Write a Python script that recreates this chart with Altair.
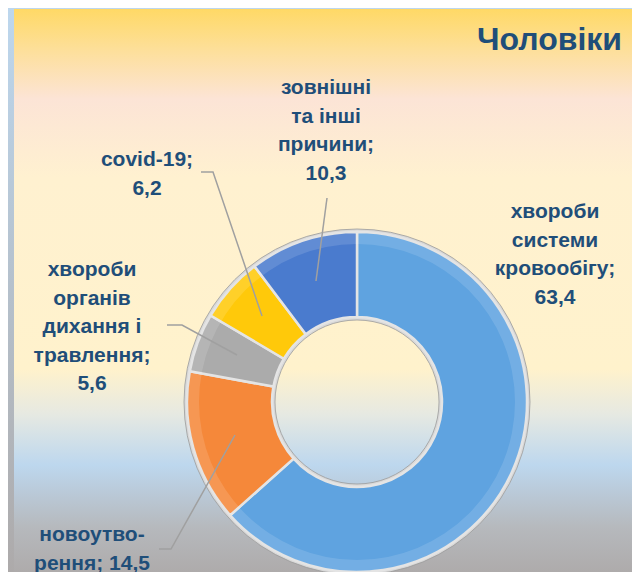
import altair as alt
import pandas as pd

# ---- data ----
categories = [
    "хвороби системи кровообігу",
    "новоутворення",
    "хвороби органів дихання і травлення",
    "covid-19",
    "зовнішні та інші причини",
]
values = [63.4, 14.5, 5.6, 6.2, 10.3]
labels = [
    "хвороби\nсистеми\nкровообігу;\n63,4",
    "новоутво-\nрення; 14,5",
    "хвороби\nорганів\nдихання і\nтравлення;\n5,6",
    "covid-19;\n6,2",
    "зовнішні\nта інші\nпричини;\n10,3",
]
title_text = "Чоловіки"

# ---- layout / style ----
W, H = 624, 564
CX, CY = 349, 394
R_OUT, R_IN = 170, 85
colors = ["#5FA3E0", "#F5883A", "#ABABAB", "#FFC90A", "#4A7BCE"]
label_pos = [(547, 204), (84, 527), (84, 262), (139, 152), (318, 80)]
leaders = [
    [(193, 164), (205, 164), (254, 308)],
    [(319, 190), (308, 273)],
    [(159, 317), (174, 317), (229, 347)],
    [(151, 541), (163, 541), (227, 427)],
]
FONT = "Liberation Sans, Arial, sans-serif"
TXT = "#1F4E79"

arc_df = pd.DataFrame({"category": categories, "value": values, "order": list(range(len(values)))})
lab_df = pd.DataFrame({
    "label": labels,
    "lx": [p[0] for p in label_pos],
    "ly": [p[1] for p in label_pos],
})
rows = []
for i, pts in enumerate(leaders):
    for j, (px, py) in enumerate(pts):
        rows.append({"id": i, "o": j, "px": px, "py": py})
lead_df = pd.DataFrame(rows)
one = pd.DataFrame({"a": [0]})

frame = alt.Chart(one).mark_rect(
    color=alt.LinearGradient(
        gradient="linear", x1=0, y1=0, x2=0, y2=1,
        stops=[alt.GradientStop(offset=0, color="#BDD7EE"),
               alt.GradientStop(offset=1, color="#ADAAAA")],
    )
).encode(x=alt.value(0), x2=alt.value(W), y=alt.value(0), y2=alt.value(H))

panel = alt.Chart(one).mark_rect(
    color=alt.LinearGradient(
        gradient="linear", x1=0, y1=0, x2=0, y2=1,
        stops=[
            alt.GradientStop(offset=0.0, color="#FFD966"),
            alt.GradientStop(offset=0.07, color="#FDDF98"),
            alt.GradientStop(offset=0.16, color="#FCE4D6"),
            alt.GradientStop(offset=0.30, color="#FFF1D0"),
            alt.GradientStop(offset=0.64, color="#FFF2CC"),
            alt.GradientStop(offset=0.72, color="#E6E9E2"),
            alt.GradientStop(offset=0.81, color="#BDD7EE"),
            alt.GradientStop(offset=0.92, color="#B6B9BD"),
            alt.GradientStop(offset=1.0, color="#AEABAB"),
        ],
    )
).encode(x=alt.value(6), x2=alt.value(W), y=alt.value(1), y2=alt.value(H))

rim = alt.Chart(one).mark_arc(
    outerRadius=R_OUT + 3, innerRadius=R_IN - 3, color="#D9D9D9",
    stroke="#9A9A9A", strokeWidth=0.8,
).encode(theta=alt.value(6.2832), x=alt.value(CX), y=alt.value(CY))

arcs = alt.Chart(arc_df).mark_arc(
    outerRadius=R_OUT, innerRadius=R_IN, stroke="#E4E4E4", strokeWidth=2.5,
).encode(
    theta=alt.Theta("value:Q", stack=True),
    color=alt.Color("category:N", scale=alt.Scale(domain=categories, range=colors), legend=None),
    order=alt.Order("order:Q"),
    x=alt.value(CX),
    y=alt.value(CY),
)

# subtle bevel: light outer band
bevel_out = alt.Chart(one).mark_arc(
    outerRadius=R_OUT - 1, innerRadius=R_OUT - 12, color="white", opacity=0.13,
).encode(theta=alt.value(6.2832), x=alt.value(CX), y=alt.value(CY))

lines = alt.Chart(lead_df).mark_line(color="#A0A0A0", strokeWidth=1.5).encode(
    x=alt.X("px:Q", scale=None, axis=None),
    y=alt.Y("py:Q", scale=None, axis=None),
    detail="id:N",
    order="o:Q",
)

texts = alt.Chart(lab_df).mark_text(
    font=FONT, fontSize=21, fontWeight="bold", color=TXT,
    align="center", baseline="middle", lineBreak="\n", lineHeight=28.5,
).encode(
    x=alt.X("lx:Q", scale=None, axis=None),
    y=alt.Y("ly:Q", scale=None, axis=None),
    text="label:N",
)

title = alt.Chart(one).mark_text(
    text=title_text, font=FONT, fontSize=32, fontWeight="bold", color=TXT,
    align="right", baseline="alphabetic",
).encode(x=alt.value(614), y=alt.value(42))

chart = alt.layer(frame, panel, rim, arcs, bevel_out, lines, texts, title).properties(
    width=W, height=H, padding=0, autosize=alt.AutoSizeParams(type="none"),
).configure_view(stroke=None)

chart.save("out.html", embed_options={"renderer": "svg", "actions": False})
